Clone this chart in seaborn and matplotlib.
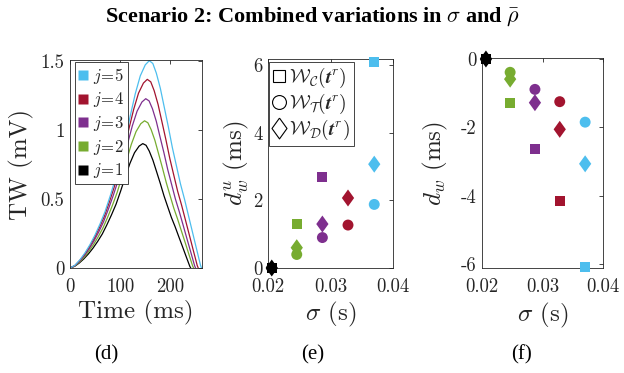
import numpy as np
import pandas as pd
import matplotlib
matplotlib.use("Agg")
import matplotlib.pyplot as plt
from matplotlib.lines import Line2D
import seaborn as sns

# ---------------- data ----------------
# Panel (d): T-wave curves, time in ms, amplitude in mV
t_j5 = [0, 10, 20, 30, 40, 50, 60, 70, 80, 90, 100, 110, 120, 130, 140, 150, 158, 165, 172, 180,
        188, 196, 204, 212, 220, 228, 236, 244, 252, 256, 260, 262]
v_j5 = [0, 0.02, 0.06, 0.11, 0.17, 0.24, 0.32, 0.41, 0.52, 0.64, 0.77, 0.93, 1.10, 1.26, 1.39, 1.47,
        1.50, 1.48, 1.41, 1.30, 1.16, 1.02, 0.87, 0.74, 0.61, 0.50, 0.38, 0.26, 0.14, 0.08, 0.02, 0]
t_j4 = [0, 9.8, 19.5, 29.3, 39, 48.8, 58.5, 68.3, 78, 87.8, 97.5, 107.3, 117, 126.8, 136.5, 146.3,
        154, 160.9, 167.7, 175.5, 183.3, 191.1, 198.9, 206.7, 214.5, 222.3, 230.1, 237.9, 245.7,
        249.6, 253.5, 255.5]
v_j4 = [0, 0.018, 0.055, 0.100, 0.155, 0.218, 0.291, 0.373, 0.473, 0.582, 0.701, 0.846, 1.001,
        1.147, 1.265, 1.338, 1.365, 1.347, 1.283, 1.183, 1.056, 0.928, 0.792, 0.673, 0.555, 0.455,
        0.346, 0.237, 0.127, 0.073, 0.018, 0]
t_j3 = [0, 9.6, 19.1, 28.7, 38.2, 47.8, 57.3, 66.9, 76.4, 86, 95.5, 105.1, 114.6, 124.2, 133.7,
        143.3, 150.9, 157.6, 164.3, 171.9, 179.5, 187.2, 194.8, 202.5, 210.1, 217.7, 225.4, 233,
        240.7, 244.5, 248.3, 250.2]
v_j3 = [0, 0.016, 0.049, 0.090, 0.139, 0.196, 0.261, 0.335, 0.425, 0.523, 0.629, 0.760, 0.898,
        1.029, 1.135, 1.201, 1.225, 1.209, 1.152, 1.062, 0.947, 0.833, 0.711, 0.604, 0.498, 0.408,
        0.310, 0.212, 0.114, 0.065, 0.016, 0]
t_j2 = [0, 9.4, 18.8, 28.2, 37.6, 47, 56.4, 65.8, 75.2, 84.6, 94, 103.4, 112.8, 122.2, 131.6, 141,
        148.5, 155.1, 161.7, 169.2, 176.7, 184.2, 191.8, 199.3, 206.8, 214.3, 221.8, 229.4, 236.9,
        240.6, 244.4, 246.3]
v_j2 = [0, 0.014, 0.043, 0.078, 0.121, 0.170, 0.227, 0.291, 0.369, 0.454, 0.547, 0.660, 0.781,
        0.895, 0.987, 1.044, 1.065, 1.051, 1.001, 0.923, 0.824, 0.724, 0.618, 0.525, 0.433, 0.355,
        0.270, 0.185, 0.099, 0.057, 0.014, 0]
t_j1 = [0, 9.2, 18.4, 27.5, 36.7, 45.9, 55.1, 64.3, 73.4, 82.6, 91.8, 101, 110.2, 119.3, 128.5,
        137.7, 145, 151.5, 157.9, 165.2, 172.6, 179.9, 187.3, 194.6, 202, 209.3, 216.6, 224, 231.3,
        235, 238.7, 240.5]
v_j1 = [0, 0.012, 0.036, 0.066, 0.102, 0.144, 0.192, 0.246, 0.312, 0.384, 0.462, 0.558, 0.660,
        0.756, 0.834, 0.882, 0.900, 0.888, 0.846, 0.780, 0.696, 0.612, 0.522, 0.444, 0.366, 0.300,
        0.228, 0.156, 0.084, 0.048, 0.012, 0]

j_labels = [1, 2, 3, 4, 5]
colors = ["#000000", "#77AC30", "#7E2F8E", "#A2142F", "#4DBEEE"]

# Panels (e) and (f): sigma (s) per j, delays (ms)
sigma = [0.0206, 0.0246, 0.0287, 0.0328, 0.0370]
du_C = [0, 1.30, 2.70, 4.20, 6.10]
du_T = [0, 0.40, 0.90, 1.27, 1.88]
du_D = [0, 0.60, 1.30, 2.07, 3.07]
dw_C = [0, -1.28, -2.64, -4.17, -6.10]
dw_T = [0, -0.39, -0.89, -1.25, -1.85]
dw_D = [0, -0.59, -1.28, -2.06, -3.07]

# ---------------- style ----------------
sns.set_style("white")
plt.rcParams.update({
    "font.family": ["cmr10", "DejaVu Serif"],
    "mathtext.fontset": "cm",
    "axes.unicode_minus": False,
    "axes.edgecolor": "#262626",
    "axes.linewidth": 0.6,
    "text.color": "#262626",
    "axes.labelcolor": "#262626",
    "xtick.color": "#262626",
    "ytick.color": "#262626",
})

DIAMOND = [(0, 1), (0.72, 0), (0, -1), (-0.72, 0), (0, 1)]

fig = plt.figure(figsize=(6.24, 3.73), dpi=100)
axd = fig.add_axes([70 / 624, 1 - 268 / 373, 132 / 624, 208 / 373])
axe = fig.add_axes([268 / 624, 1 - 268 / 373, 125 / 624, 209 / 373])
axf = fig.add_axes([482.3 / 624, 1 - 268.3 / 373, 121 / 624, 210 / 373])

pal = dict(zip(j_labels, colors))

# ---------------- panel (d) ----------------
curves = pd.concat([
    pd.DataFrame({"t": t, "v": v, "j": j})
    for j, t, v in zip(j_labels, [t_j1, t_j2, t_j3, t_j4, t_j5], [v_j1, v_j2, v_j3, v_j4, v_j5])
])
sns.lineplot(data=curves, x="t", y="v", hue="j", palette=pal, sort=False, estimator=None,
             linewidth=0.9, legend=False, ax=axd)
axd.set_xlim(0, 263)
axd.set_ylim(0, 1.505)
axd.set_xticks([0, 100, 200])
axd.set_xticklabels(["0", "100", "200"])
axd.set_yticks([0, 0.5, 1, 1.5])
axd.set_yticklabels(["0", "0.5", "1", "1.5"])
axd.set_xlabel("Time (ms)", fontsize=18)
axd.set_ylabel("TW (mV)", fontsize=18)
axd.yaxis.set_label_coords(-0.275, 0.5)
axd.xaxis.set_label_coords(0.5, -0.155)
hd = [Line2D([], [], marker="s", linestyle="None", markersize=6.5, markerfacecolor=pal[j],
             markeredgecolor="none", label=rf"$j\!=\!{j}$") for j in j_labels[::-1]]
legd = axd.legend(handles=hd, loc="upper left", bbox_to_anchor=(0.035, 0.99), fontsize=12,
                  frameon=True, fancybox=False, framealpha=1, edgecolor="#262626",
                  handlelength=0.6, handletextpad=0.3, labelspacing=0.28, borderpad=0.22,
                  borderaxespad=0)
legd.get_frame().set_linewidth(0.6)

# ---------------- panels (e) and (f) ----------------
def scatter_panel(ax, vals_C, vals_T, vals_D):
    for vals, m, s in [(vals_C, "s", 50), (vals_T, "o", 62), (vals_D, DIAMOND, 150)]:
        df = pd.DataFrame({"sigma": sigma, "val": vals, "j": j_labels})
        sns.scatterplot(data=df, x="sigma", y="val", hue="j", palette=pal, marker=m, s=s,
                        edgecolor="none", linewidth=0, legend=False, ax=ax, clip_on=False,
                        zorder=3)
    ax.set_xlim(0.02, 0.04)
    ax.set_xticks([0.02, 0.03, 0.04])
    ax.set_xticklabels(["0.02", "0.03", "0.04"])
    ax.set_xlabel(r"$\sigma$ (s)", fontsize=18)
    ax.xaxis.set_label_coords(0.5, -0.155)

scatter_panel(axe, du_C, du_T, du_D)
axe.set_ylim(0, 6.18)
axe.set_yticks([0, 2, 4, 6])
axe.set_yticklabels(["0", "2", "4", "6"])
axe.set_ylabel(r"$d_w^u$ (ms)", fontsize=18)
axe.yaxis.set_label_coords(-0.135, 0.5)

he = [Line2D([], [], marker=m, linestyle="None", markersize=ms, markerfacecolor="white",
             markeredgecolor="black", markeredgewidth=0.8, label=lab)
      for m, ms, lab in [("s", 9, r"$\mathcal{W}_\mathcal{C}(\mathbfit{t}^r)$"),
                         ("o", 10, r"$\mathcal{W}_\mathcal{T}(\mathbfit{t}^r)$"),
                         (DIAMOND, 15, r"$\mathcal{W}_\mathcal{D}(\mathbfit{t}^r)$")]]
lege = axe.legend(handles=he, loc="upper left", bbox_to_anchor=(0.005, 0.985), fontsize=14,
                  frameon=True, fancybox=False, framealpha=1, edgecolor="#262626",
                  handlelength=0.7, handletextpad=0.15, labelspacing=0.1, borderpad=0.2,
                  borderaxespad=0)
lege.get_frame().set_linewidth(0.6)
lege.set_zorder(10)

scatter_panel(axf, dw_C, dw_T, dw_D)
axf.set_ylim(-6.13, 0.02)
axf.set_yticks([-6, -4, -2, 0])
axf.set_yticklabels(["-6", "-4", "-2", "0"])
axf.set_ylabel(r"$d_w$ (ms)", fontsize=18)
axf.yaxis.set_label_coords(-0.265, 0.5)

for ax in (axd, axe, axf):
    ax.tick_params(direction="in", length=3, width=0.6, top=True, right=True, labelsize=13.5,
                   pad=4)
    ax.tick_params(axis="x", pad=7)
    for sp in ax.spines.values():
        sp.set_visible(True)
        sp.set_color("#262626")
        sp.set_linewidth(0.6)

fig.text(0.5, 1 - 17 / 373, r"Scenario 2: Combined variations in $\sigma$ and $\bar{\rho}$",
         ha="center", va="center", fontsize=16, fontweight="bold",
         family=["Liberation Serif", "DejaVu Serif"], color="black")
for x, lab in [(106, "(d)"), (313, "(e)"), (522, "(f)")]:
    fig.text(x / 624, 1 - 355 / 373, lab, ha="center", va="center", fontsize=15,
             family=["Liberation Serif", "DejaVu Serif"], color="black")

fig.savefig("out.png", dpi=100)
